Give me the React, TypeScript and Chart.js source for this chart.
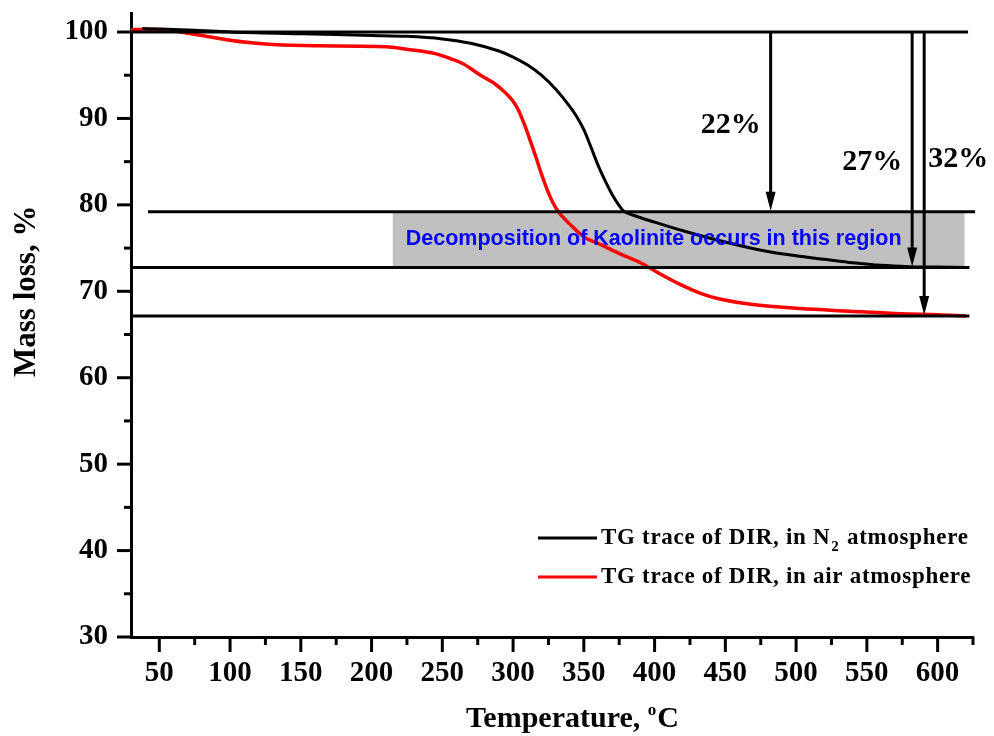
import { useEffect, useRef } from 'react';
import { Chart, registerables } from 'chart.js';
Chart.register(...registerables);

// ---- data ----
const tempN2 = [38, 50, 75, 100, 150, 200, 225, 250, 270, 290, 300, 310, 320, 330, 340, 345, 350, 355, 360, 365, 370, 375, 378, 385, 400, 420, 440, 460, 480, 500, 520, 540, 560, 580, 600, 620];
const massN2 = [100.4, 100.35, 100.2, 100.0, 99.8, 99.6, 99.5, 99.2, 98.7, 97.8, 97.1, 96.2, 95.0, 93.4, 91.4, 90.2, 88.7, 86.7, 84.6, 82.8, 81.2, 79.9, 79.3, 78.8, 78.0, 77.0, 76.1, 75.3, 74.6, 74.1, 73.7, 73.3, 73.0, 72.85, 72.8, 72.75];

const tempAir = [30, 53, 65, 80, 100, 115, 130, 160, 210, 225, 245, 256, 265, 277, 288, 295, 300, 304, 308, 312, 316, 320, 324, 328, 332, 340, 350, 362, 376, 390, 404, 418, 432, 446, 468, 503, 538, 574, 600, 620];
const massAir = [100.3, 100.3, 100.0, 99.6, 99.05, 98.75, 98.55, 98.4, 98.3, 98.0, 97.5, 96.9, 96.3, 95.0, 93.9, 92.9, 92.0, 90.9, 89.3, 87.5, 85.6, 83.6, 81.8, 80.3, 79.2, 77.8, 76.3, 75.4, 74.3, 73.3, 72.0, 70.8, 69.8, 69.1, 68.5, 68.0, 67.7, 67.4, 67.3, 67.15];

const seriesLabels = ['TG trace of DIR, in N', 'TG trace of DIR, in air atmosphere'];

const xTicks = [50, 100, 150, 200, 250, 300, 350, 400, 450, 500, 550, 600];
const xMinorTicks = [75, 125, 175, 225, 275, 325, 375, 425, 475, 525, 575, 625];
const yTicks = [30, 40, 50, 60, 70, 80, 90, 100];
const yMinorTicks = [35, 45, 55, 65, 75, 85, 95];

// reference levels (mass %) and their temperature extents
const refLevels = [100, 79.2, 72.75, 67.15];
const refStart = [30, 42, 31.5, 31.5];
const refEnd = [621.5, 626.5, 622.5, 622.5];

// shaded kaolinite region
const bandTemps = [215, 619];
const bandMass = [72.75, 79.2];
const bandText = 'Decomposition of Kaolinite occurs in this region';

// mass-loss arrows
const arrowTemps = [482, 582, 590.5];
const arrowTargets = [79.2, 72.75, 67.15];
const arrowLabels = ['22%', '27%', '32%'];
const arrowLabelLevels = [88.3, 84.0, 84.35];

const SERIF = "'Liberation Serif', 'Times New Roman', serif";
const SANS = "'Liberation Sans', Arial, sans-serif";

const annotPlugin = {
  id: 'annot',
  beforeDatasetsDraw(chart: any) {
    const { ctx, scales: { x, y } } = chart;
    ctx.save();
    ctx.fillStyle = '#c0c0c0';
    const l = x.getPixelForValue(bandTemps[0]);
    const r = x.getPixelForValue(bandTemps[1]);
    const t = y.getPixelForValue(bandMass[1]);
    const b = y.getPixelForValue(bandMass[0]);
    ctx.fillRect(l, t, r - l, b - t);
    ctx.restore();
  },
  afterDatasetsDraw(chart: any) {
    const { ctx, scales: { x, y } } = chart;
    ctx.save();
    ctx.strokeStyle = '#000';
    ctx.fillStyle = '#000';
    ctx.lineWidth = 3;
    ctx.lineCap = 'butt';
    for (let i = 0; i < refLevels.length; i++) {
      const py = y.getPixelForValue(refLevels[i]);
      ctx.beginPath();
      ctx.moveTo(x.getPixelForValue(refStart[i]), py);
      ctx.lineTo(x.getPixelForValue(refEnd[i]), py);
      ctx.stroke();
    }
    // arrows
    const top = y.getPixelForValue(refLevels[0]);
    for (let i = 0; i < arrowTemps.length; i++) {
      const ax = x.getPixelForValue(arrowTemps[i]);
      const ty = y.getPixelForValue(arrowTargets[i]);
      ctx.beginPath();
      ctx.moveTo(ax, top + 1);
      ctx.lineTo(ax, ty - 14);
      ctx.stroke();
      ctx.beginPath();
      ctx.moveTo(ax - 5, ty - 20);
      ctx.lineTo(ax + 5, ty - 20);
      ctx.lineTo(ax, ty - 1);
      ctx.closePath();
      ctx.fill();
    }
    ctx.font = `bold 30px ${SERIF}`;
    ctx.textBaseline = 'alphabetic';
    for (let i = 0; i < arrowLabels.length; i++) {
      const ax = x.getPixelForValue(arrowTemps[i]);
      const ly = y.getPixelForValue(arrowLabelLevels[i]);
      if (i === 2) {
        ctx.textAlign = 'left';
        ctx.fillText(arrowLabels[i], ax + 4, ly);
      } else {
        ctx.textAlign = 'right';
        ctx.fillText(arrowLabels[i], ax - 10, ly);
      }
    }
    // band text
    ctx.fillStyle = '#0000ff';
    ctx.font = `bold 21.5px ${SANS}`;
    ctx.textAlign = 'left';
    const mid = (y.getPixelForValue(bandMass[0]) + y.getPixelForValue(bandMass[1])) / 2;
    ctx.fillText(bandText, x.getPixelForValue(bandTemps[0]) + 13, mid + 5);
    ctx.restore();
  },
  afterDraw(chart: any) {
    const { ctx, chartArea, scales: { x, y } } = chart;
    ctx.save();
    ctx.strokeStyle = '#000';
    ctx.lineWidth = 3;
    const bx = chartArea.bottom;
    for (const v of xTicks) {
      const px = x.getPixelForValue(v);
      ctx.beginPath(); ctx.moveTo(px, bx); ctx.lineTo(px, bx + 15); ctx.stroke();
    }
    for (const v of xMinorTicks) {
      const px = x.getPixelForValue(v);
      ctx.beginPath(); ctx.moveTo(px, bx); ctx.lineTo(px, bx + 8); ctx.stroke();
    }
    const lx = chartArea.left;
    for (const v of yTicks) {
      const py = y.getPixelForValue(v);
      ctx.beginPath(); ctx.moveTo(lx, py); ctx.lineTo(lx - 14, py); ctx.stroke();
    }
    for (const v of yMinorTicks) {
      const py = y.getPixelForValue(v);
      ctx.beginPath(); ctx.moveTo(lx, py); ctx.lineTo(lx - 7, py); ctx.stroke();
    }
    // axis titles
    ctx.fillStyle = '#000';
    ctx.font = `bold 31px ${SERIF}`;
    ctx.save();
    ctx.translate(27, y.getPixelForValue(70));
    ctx.rotate(-Math.PI / 2);
    ctx.textAlign = 'center';
    ctx.textBaseline = 'middle';
    ctx.fillText('Mass loss, %', 0, 0);
    ctx.restore();

    const t1 = 'Temperature, ';
    const sup = 'o';
    const t2 = 'C';
    ctx.font = `bold 30px ${SERIF}`;
    const w1 = ctx.measureText(t1).width;
    const w3 = ctx.measureText(t2).width;
    ctx.font = `bold 17px ${SERIF}`;
    const w2 = ctx.measureText(sup).width;
    const total = w1 + w2 + w3 + 1;
    const cx = x.getPixelForValue(342);
    const base = 727;
    let sx = cx - total / 2;
    ctx.textAlign = 'left';
    ctx.textBaseline = 'alphabetic';
    ctx.font = `bold 30px ${SERIF}`;
    ctx.fillText(t1, sx, base);
    sx += w1;
    ctx.font = `bold 17px ${SERIF}`;
    ctx.fillText(sup, sx, base - 12);
    sx += w2 + 1;
    ctx.font = `bold 30px ${SERIF}`;
    ctx.fillText(t2, sx, base);

    // legend
    const legX = chartArea.right - 435;
    const rows = [chartArea.top + 525, chartArea.top + 564];
    const colors = ['#000000', '#ff0000'];
    for (let i = 0; i < 2; i++) {
      const ry = rows[i];
      ctx.strokeStyle = colors[i];
      ctx.lineWidth = 3;
      ctx.beginPath(); ctx.moveTo(legX, ry); ctx.lineTo(legX + 59, ry); ctx.stroke();
      ctx.fillStyle = '#000';
      ctx.font = `bold 23px ${SERIF}`;
      (ctx as any).letterSpacing = '0.7px';
      ctx.textBaseline = 'middle';
      ctx.textAlign = 'left';
      const tx = legX + 63;
      if (i === 0) {
        ctx.fillText(seriesLabels[0], tx, ry);
        const wA = ctx.measureText(seriesLabels[0]).width;
        ctx.font = `bold 15px ${SERIF}`;
        ctx.fillText('2', tx + wA + 1, ry + 9);
        const wB = ctx.measureText('2').width;
        ctx.font = `bold 23px ${SERIF}`;
        ctx.fillText(' atmosphere', tx + wA + wB + 2, ry);
      } else {
        ctx.fillText(seriesLabels[1], tx, ry);
      }
      (ctx as any).letterSpacing = '0px';
    }
    ctx.restore();
  },
};

export default function App() {
  const ref = useRef<HTMLCanvasElement | null>(null);
  useEffect(() => {
    if (!ref.current) return;
    const chart = new Chart(ref.current, {
      type: 'line',
      data: {
        datasets: [
          {
            label: 'TG trace of DIR, in N2 atmosphere',
            data: tempN2.map((t, i) => ({ x: t, y: massN2[i] })),
            borderColor: '#000000',
            borderWidth: 3,
            pointRadius: 0,
            cubicInterpolationMode: 'monotone',
          },
          {
            label: seriesLabels[1],
            data: tempAir.map((t, i) => ({ x: t, y: massAir[i] })),
            borderColor: '#ff0000',
            borderWidth: 3.5,
            pointRadius: 0,
            cubicInterpolationMode: 'monotone',
          },
        ],
      },
      options: {
        responsive: false,
        animation: false,
        devicePixelRatio: 1,
        layout: { padding: { left: 0, right: 21, top: 13, bottom: 0 } },
        plugins: { legend: { display: false }, tooltip: { enabled: false } },
        scales: {
          x: {
            type: 'linear',
            min: 30,
            max: 625,
            afterBuildTicks: (s: any) => { s.ticks = xTicks.map((v) => ({ value: v })); },
            afterFit: (s: any) => { s.height = 99; s.paddingLeft = 0; s.paddingRight = 0; },
            grid: { display: false, drawTicks: false },
            border: { display: true, width: 3, color: '#000' },
            ticks: {
              color: '#000',
              padding: 19,
              maxRotation: 0,
              autoSkip: false,
              font: { family: SERIF, size: 29, weight: 'bold' },
            },
          },
          y: {
            type: 'linear',
            min: 30,
            max: 102.2,
            afterBuildTicks: (s: any) => { s.ticks = yTicks.map((v) => ({ value: v })); },
            afterFit: (s: any) => { s.width = 131; s.paddingTop = 0; s.paddingBottom = 0; },
            grid: { display: false, drawTicks: false },
            border: { display: true, width: 3, color: '#000' },
            ticks: {
              color: '#000',
              padding: 23,
              font: { family: SERIF, size: 29, weight: 'bold' },
            },
          },
        },
      },
      plugins: [annotPlugin],
    } as any);
    return () => chart.destroy();
  }, []);
  return (
    <div style={{ position: 'fixed', left: 0, top: 0, width: 994, height: 736, background: '#fff' }}>
      <canvas ref={ref} width={994} height={736} style={{ width: 994, height: 736 }} />
    </div>
  );
}
